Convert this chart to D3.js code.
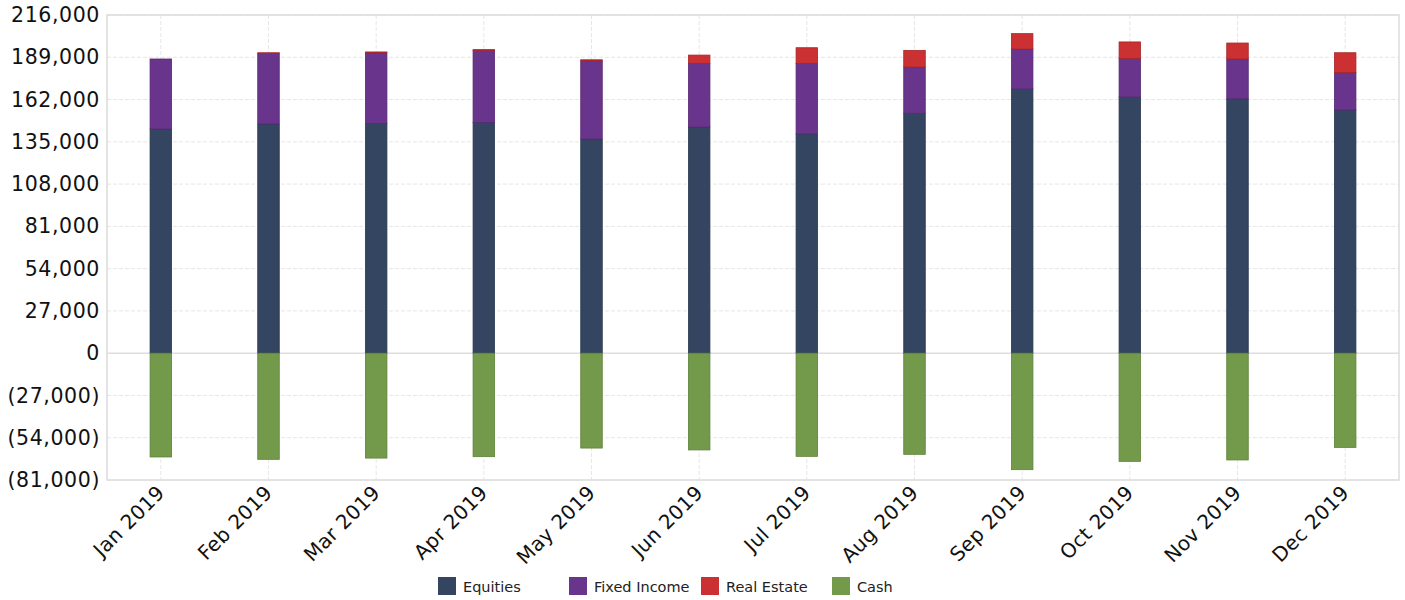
<!DOCTYPE html>
<html>
<head>
<meta charset="utf-8">
<script src="https://cdn.jsdelivr.net/npm/d3@7"></script>
<style>
  body { margin: 0; background: #fff; }
  svg { display: block; font-family: "DejaVu Sans", sans-serif; }
</style>
</head>
<body>
<div class="graph"></div>
<script>
// data
const months = ["Jan 2019", "Feb 2019", "Mar 2019", "Apr 2019", "May 2019", "Jun 2019",
                "Jul 2019", "Aug 2019", "Sep 2019", "Oct 2019", "Nov 2019", "Dec 2019"];
const equities    = [143200, 146400, 146800, 147400, 136800, 144500, 140000, 153200, 168700, 163600, 162500, 155300];
const fixedIncome = [44700, 45100, 45100, 46000, 50000, 40600, 45100, 29600, 25600, 24700, 25400, 23900];
const realEstate  = [0, 400, 500, 500, 600, 5300, 10000, 10600, 9800, 10500, 10200, 12700];
const cash        = [-66300, -67800, -67000, -66100, -60600, -61800, -65900, -64600, -74400, -69100, -68200, -60200];
const yTicks = [-81000, -54000, -27000, 0, 27000, 54000, 81000, 108000, 135000, 162000, 189000, 216000];

const seriesNames = ["Equities", "Fixed Income", "Real Estate", "Cash"];
const seriesValues = [equities, fixedIncome, realEstate, cash];
const colours = ["#334561", "#69348b", "#cb3132", "#739a4b"];
const strokes = ["#2a3a52", "#572a74", "#a82627", "#5f8239"];

// dimensions
const W = 1405, H = 600;
const margin = { top: 15, right: 6, bottom: 120, left: 107 };
const width = W - margin.left - margin.right;
const height = H - margin.top - margin.bottom;

const rows = months.map((m, i) => {
    const r = { month: m };
    seriesNames.forEach((s, j) => { r[s] = seriesValues[j][i]; });
    return r;
});

const stacked = d3.stack()
    .keys(seriesNames)
    .offset(d3.stackOffsetDiverging)(rows);

const svg = d3.select(".graph")
    .append("svg")
    .attr("width", W)
    .attr("height", H);

const g = svg.append("g")
    .attr("transform", "translate(" + margin.left + "," + margin.top + ")");

const x = d3.scaleBand()
    .domain(months)
    .range([0, width]);

const y = d3.scaleLinear()
    .domain([-81000, 216000])
    .range([height, 0]);

// gridlines
g.append("g")
    .selectAll("line")
    .data(yTicks)
    .enter().append("line")
    .attr("x1", 0).attr("x2", width)
    .attr("y1", d => y(d)).attr("y2", d => y(d))
    .attr("stroke", d => d === 0 ? "#dedede" : "#e6e6e6")
    .attr("stroke-width", d => d === 0 ? 1.5 : 1)
    .attr("stroke-dasharray", d => d === 0 ? null : "4,2");

g.append("g")
    .selectAll("line")
    .data(months)
    .enter().append("line")
    .attr("x1", d => x(d) + x.bandwidth() / 2).attr("x2", d => x(d) + x.bandwidth() / 2)
    .attr("y1", 0).attr("y2", height)
    .attr("stroke", "#e6e6e6")
    .attr("stroke-dasharray", "4,2");

// plot frame
g.append("rect")
    .attr("width", width).attr("height", height)
    .attr("fill", "none")
    .attr("stroke", "#dcdcdc")
    .attr("stroke-width", 1.5);

// bars
const barW = x.bandwidth() * 0.2;
stacked.forEach((layer, j) => {
    g.append("g")
        .selectAll("rect")
        .data(layer)
        .enter().append("rect")
        .attr("x", d => x(d.data.month) + (x.bandwidth() - barW) / 2)
        .attr("y", d => y(Math.max(d[0], d[1])))
        .attr("width", barW)
        .attr("height", d => Math.abs(y(d[0]) - y(d[1])))
        .attr("fill", colours[j])
        .attr("stroke", strokes[j])
        .attr("stroke-width", 0.8);
});

// y axis
const yAxis = g.append("g")
    .call(d3.axisLeft(y)
        .tickValues(yTicks)
        .tickSize(0)
        .tickPadding(7)
        .tickFormat(d => d < 0 ? "(" + d3.format(",")(-d) + ")" : d3.format(",")(d)));
yAxis.select(".domain").remove();
yAxis.selectAll("text")
    .attr("font-size", 20.5)
    .attr("letter-spacing", 0.6)
    .attr("font-family", "DejaVu Sans, sans-serif")
    .attr("fill", "#111");

// x axis
const xAxis = g.append("g")
    .attr("transform", "translate(0," + height + ")")
    .call(d3.axisBottom(x).tickSize(0));
xAxis.select(".domain").remove();
xAxis.selectAll("text")
    .attr("font-size", 20)
    .attr("letter-spacing", 0.3)
    .attr("font-family", "DejaVu Sans, sans-serif")
    .attr("fill", "#111")
    .attr("text-anchor", "end")
    .attr("y", 0)
    .attr("dy", 0)
    .attr("transform", "translate(5,14) rotate(-45)");

// legend
const legendX = [438, 569, 701, 832];
const legend = svg.append("g")
    .selectAll("g")
    .data(seriesNames)
    .enter().append("g")
    .attr("transform", (d, i) => "translate(" + legendX[i] + ",577)");
legend.append("rect")
    .attr("width", 18).attr("height", 18)
    .attr("fill", (d, i) => colours[i]);
legend.append("text")
    .attr("x", 25)
    .attr("y", 15)
    .attr("font-size", 14.5)
    .attr("fill", "#222")
    .text(d => d);
</script>
</body>
</html>
